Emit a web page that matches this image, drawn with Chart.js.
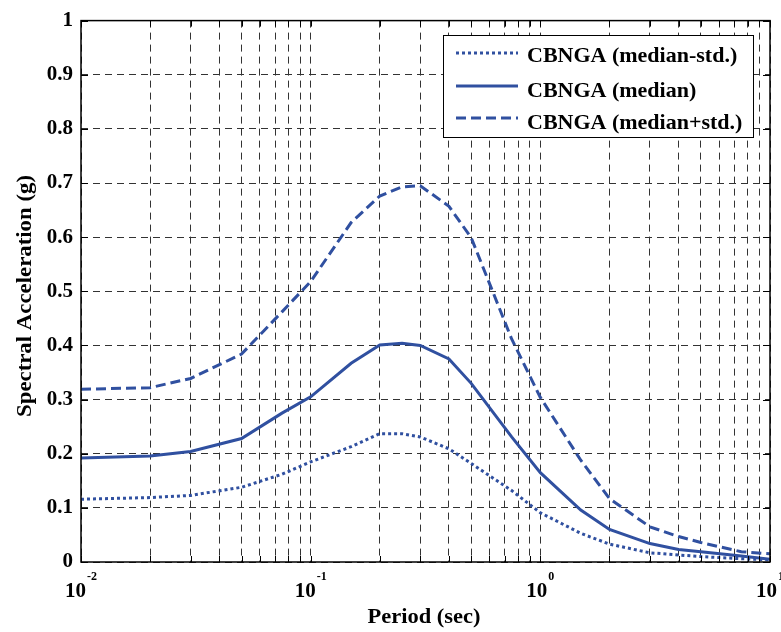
<!DOCTYPE html>
<html>
<head>
<meta charset="utf-8">
<title>CBNGA spectra</title>
<script src="https://cdn.jsdelivr.net/npm/chart.js@4.4.1/dist/chart.umd.min.js"></script>
<style>
  html, body { margin: 0; padding: 0; background: #fff; }
</style>
</head>
<body>
<canvas id="spectraChart" width="781" height="632"></canvas>
<script>
// Periods (sec) and spectral accelerations (g)
const periods = [0.01, 0.02, 0.03, 0.05, 0.075, 0.1, 0.15, 0.2, 0.25, 0.3, 0.4, 0.5, 0.75, 1, 1.5, 2, 3, 4, 5, 7.5, 10];
const saMinusStd = [0.116, 0.119, 0.123, 0.138, 0.162, 0.185, 0.213, 0.237, 0.237, 0.231, 0.209, 0.182, 0.132, 0.091, 0.053, 0.033, 0.017, 0.013, 0.010, 0.006, 0.004];
const saMedian = [0.192, 0.196, 0.204, 0.228, 0.275, 0.305, 0.367, 0.401, 0.404, 0.400, 0.375, 0.330, 0.231, 0.165, 0.096, 0.060, 0.034, 0.023, 0.019, 0.011, 0.005];
const saPlusStd = [0.319, 0.322, 0.339, 0.384, 0.462, 0.518, 0.627, 0.676, 0.693, 0.695, 0.657, 0.599, 0.412, 0.304, 0.188, 0.117, 0.065, 0.047, 0.036, 0.019, 0.015];

const seriesLabels = ['CBNGA (median-std.)', 'CBNGA (median)', 'CBNGA (median+std.)'];

// Axis ticks
const xDecades = [0.01, 0.1, 1, 10];
const xExponents = ['-2', '-1', '0', '1'];
const xGridValues = [
    0.01, 0.02, 0.03, 0.04, 0.05, 0.06, 0.07, 0.08, 0.09,
    0.1, 0.2, 0.3, 0.4, 0.5, 0.6, 0.7, 0.8, 0.9,
    1, 2, 3, 4, 5, 6, 7, 8, 9, 10
];
const yTickValues = [0, 0.1, 0.2, 0.3, 0.4, 0.5, 0.6, 0.7, 0.8, 0.9, 1];

const lineBlue = '#3050a0';
const serif = '"Liberation Serif", "Times New Roman", serif';

function toPoints(ys) {
    return periods.map((t, i) => ({ x: t, y: ys[i] }));
}

// text stretched/squeezed horizontally to a given width
function drawFitted(ctx, text, x, y, width, font, rotate) {
    ctx.save();
    ctx.font = font;
    const w = ctx.measureText(text).width;
    ctx.translate(x, y);
    if (rotate) ctx.rotate(-Math.PI / 2);
    ctx.scale(width / w, 1);
    ctx.textAlign = 'center';
    ctx.textBaseline = 'alphabetic';
    ctx.fillStyle = '#000';
    ctx.fillText(text, 0, 0);
    ctx.restore();
}

// MATLAB-like frame, inward ticks, 10^n labels, titles and legend
const matlabStyle = {
    id: 'matlabStyle',
    afterDraw(chart) {
        const ctx = chart.ctx;
        const area = chart.chartArea;
        const xs = chart.scales.x;
        const ys = chart.scales.y;

        ctx.save();
        ctx.strokeStyle = '#000';
        ctx.lineWidth = 1;
        ctx.setLineDash([]);
        // inward ticks
        ctx.beginPath();
        xGridValues.forEach(v => {
            const px = Math.round(xs.getPixelForValue(v)) + 0.5;
            ctx.moveTo(px, area.bottom); ctx.lineTo(px, area.bottom - 6);
            ctx.moveTo(px, area.top); ctx.lineTo(px, area.top + 6);
        });
        yTickValues.forEach(v => {
            const py = Math.round(ys.getPixelForValue(v)) + 0.5;
            ctx.moveTo(area.left, py); ctx.lineTo(area.left + 7, py);
            ctx.moveTo(area.right, py); ctx.lineTo(area.right - 7, py);
        });
        ctx.stroke();

        // frame
        ctx.lineWidth = 1.5;
        ctx.strokeRect(area.left, area.top, area.right - area.left, area.bottom - area.top);

        // x tick labels 10^n
        ctx.fillStyle = '#000';
        ctx.textBaseline = 'alphabetic';
        ctx.textAlign = 'left';
        xDecades.forEach((v, i) => {
            const px = xs.getPixelForValue(v);
            ctx.font = 'bold 21px ' + serif;
            const wb = ctx.measureText('10').width;
            ctx.font = 'bold 12px ' + serif;
            const we = ctx.measureText(xExponents[i]).width;
            const start = px - (wb + we + 1) / 2;
            ctx.font = 'bold 21px ' + serif;
            ctx.fillText('10', start, 597);
            ctx.font = 'bold 12px ' + serif;
            ctx.fillText(xExponents[i], start + wb + 1, 580);
        });
        ctx.restore();

        // axis titles
        drawFitted(ctx, 'Period (sec)', 424, 623, 113, 'bold 20px ' + serif, false);
        drawFitted(ctx, 'Spectral Acceleration (g)', 31, 296, 242, 'bold 20px ' + serif, true);

        // legend
        ctx.save();
        const box = { x: 443, y: 35, w: 310, h: 102 };
        ctx.fillStyle = '#fff';
        ctx.fillRect(box.x, box.y, box.w, box.h);
        ctx.strokeStyle = '#000';
        ctx.lineWidth = 1;
        ctx.setLineDash([]);
        ctx.strokeRect(box.x + 0.5, box.y + 0.5, box.w, box.h);
        const lineYs = [53, 86, 118];
        const textYs = [62, 97, 129];
        chart.data.datasets.forEach((ds, i) => {
            ctx.strokeStyle = ds.borderColor;
            ctx.lineWidth = ds.borderWidth;
            ctx.setLineDash(ds.borderDash || []);
            ctx.beginPath();
            ctx.moveTo(456, lineYs[i]);
            ctx.lineTo(518, lineYs[i]);
            ctx.stroke();
            ctx.setLineDash([]);
            ctx.fillStyle = '#000';
            ctx.font = 'bold 22px ' + serif;
            ctx.textAlign = 'left';
            ctx.textBaseline = 'alphabetic';
            ctx.fillText(ds.label, 527, textYs[i]);
        });
        ctx.restore();
    }
};

const ctx = document.getElementById('spectraChart').getContext('2d');
new Chart(ctx, {
    type: 'line',
    data: {
        datasets: [
            {
                label: seriesLabels[0],
                data: toPoints(saMinusStd),
                borderColor: lineBlue,
                borderWidth: 3,
                borderDash: [3, 3]
            },
            {
                label: seriesLabels[1],
                data: toPoints(saMedian),
                borderColor: lineBlue,
                borderWidth: 3
            },
            {
                label: seriesLabels[2],
                data: toPoints(saPlusStd),
                borderColor: lineBlue,
                borderWidth: 3,
                borderDash: [10, 5]
            }
        ]
    },
    options: {
        responsive: false,
        animation: false,
        devicePixelRatio: 1,
        layout: { padding: { left: 0, top: 19, right: 11, bottom: 0 } },
        elements: {
            point: { radius: 0 },
            line: { tension: 0, fill: false }
        },
        plugins: {
            legend: { display: false },
            tooltip: { enabled: false }
        },
        scales: {
            x: {
                type: 'logarithmic',
                min: 0.01,
                max: 10,
                afterBuildTicks: scale => {
                    scale.ticks = xGridValues.map(v => ({ value: v }));
                },
                afterFit: scale => { scale.height = 70; },
                ticks: { display: false },
                grid: { color: '#333', lineWidth: 1, drawTicks: false },
                border: { display: false, dash: [7, 5] }
            },
            y: {
                min: 0,
                max: 1,
                afterBuildTicks: scale => {
                    scale.ticks = yTickValues.map(v => ({ value: v }));
                },
                afterFit: scale => { scale.width = 81; },
                ticks: {
                    color: '#000',
                    padding: 8,
                    font: { family: serif, size: 21, weight: 'bold' },
                    callback: v => (v === 0 || v === 1) ? String(v) : v.toFixed(1)
                },
                grid: { color: '#333', lineWidth: 1, drawTicks: false },
                border: { display: false, dash: [7, 5] }
            }
        }
    },
    plugins: [matlabStyle]
});
</script>
</body>
</html>
